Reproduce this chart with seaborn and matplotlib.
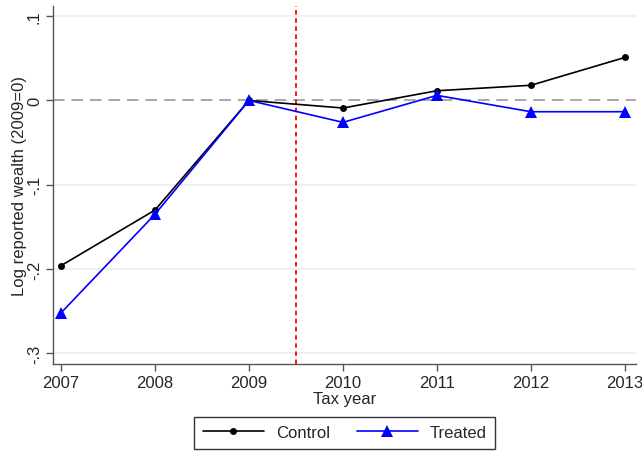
import pandas as pd
import seaborn as sns
import matplotlib.pyplot as plt

# data
years = [2007, 2008, 2009, 2010, 2011, 2012, 2013]
control = [-0.196, -0.130, 0.0, -0.009, 0.0115, 0.018, 0.051]
treated = [-0.252, -0.135, 0.0, -0.026, 0.006, -0.0134, -0.0134]
groups = ["Control", "Treated"]
y_ticks = [0.1, 0.0, -0.1, -0.2, -0.3]
y_labels = [".1", "0", "-.1", "-.2", "-.3"]

df = pd.DataFrame({
    "year": years * 2,
    "value": control + treated,
    "group": ["Control"] * len(years) + ["Treated"] * len(years),
})

sns.set_style("white")
plt.rcParams["font.family"] = ["Liberation Sans", "DejaVu Sans"]

fig = plt.figure(figsize=(6.42, 4.52), dpi=100)
ax = fig.add_axes([0.0826, 0.1925, 0.908, 0.792])

# grid and reference lines
for t in [0.1, -0.1, -0.2, -0.3]:
    ax.axhline(t, color="#e6eff1", lw=1.2, zorder=0)
ax.axhline(0, color="#a8a8a8", lw=1.4, ls=(0, (6, 3.5)), zorder=1)
ax.axvline(2009.5, color="red", lw=1.3, ls=(0, (2.5, 2)), zorder=1)

sns.lineplot(data=df, x="year", y="value", hue="group", style="group",
             hue_order=groups, style_order=groups,
             palette={"Control": "black", "Treated": "blue"},
             markers={"Control": "o", "Treated": "^"}, dashes=False,
             markeredgewidth=0, lw=1.2, ax=ax, zorder=3)
for line in ax.lines:
    if line.get_marker() == "o":
        line.set_markersize(5)
    elif line.get_marker() == "^":
        line.set_markersize(8)

ax.set_xlim(2006.915, 2013.117)
ax.set_ylim(-0.3126, 0.112)
ax.set_xticks(years)
ax.set_xticklabels([str(y) for y in years], fontsize=12)
ax.set_yticks(y_ticks)
ax.set_yticklabels(y_labels, fontsize=12, rotation=90, va="center")
ax.set_xlabel("Tax year", fontsize=12, labelpad=1)
ax.set_ylabel("Log reported wealth (2009=0)", fontsize=12, labelpad=0)

sns.despine(ax=ax)
for s in ["left", "bottom"]:
    ax.spines[s].set_color("#555555")
    ax.spines[s].set_linewidth(1.0)
ax.tick_params(axis="both", direction="out", length=5, width=1, color="#555555",
               bottom=True, left=True, pad=3)

# legend below the plot
handles, labels = ax.get_legend_handles_labels()
ax.legend_.remove()
for h in handles:
    if h.get_marker() == "o":
        h.set_markersize(5)
    elif h.get_marker() == "^":
        h.set_markersize(8)
leg = fig.legend(handles, labels, loc="lower center", bbox_to_anchor=(0.537, 0.0),
                 ncol=2, fontsize=12, frameon=True, fancybox=False,
                 handlelength=3.7, columnspacing=1.6, borderpad=0.5,
                 handletextpad=0.7, borderaxespad=0.15)
leg.get_frame().set_edgecolor("black")
leg.get_frame().set_linewidth(1.0)

fig.savefig("out.png", dpi=100)
